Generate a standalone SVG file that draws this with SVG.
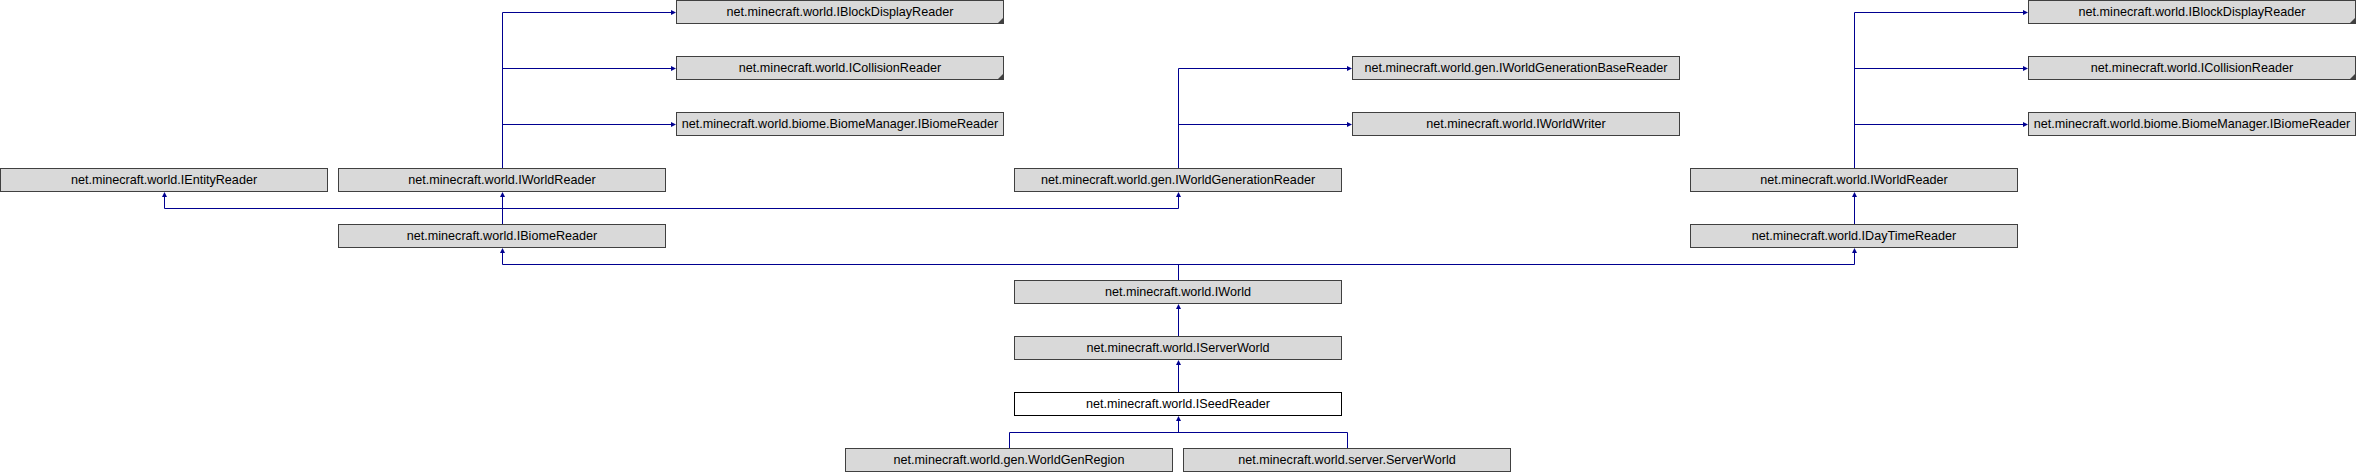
<svg xmlns="http://www.w3.org/2000/svg" width="2356" height="472" viewBox="0 0 2356 472">
<style>
.b{fill:#d9d9d9;stroke:#404040;stroke-width:1}
.w{fill:#ffffff;stroke:#000000;stroke-width:1}
.t{font-family:"Liberation Sans",Arial,sans-serif;font-size:12.6px;fill:#000000;text-anchor:middle}
.c{fill:#404040}
.e{fill:none;stroke:#000090;stroke-width:1}
.a{fill:none;stroke:#000090;stroke-width:1;marker-end:url(#arr)}
</style>
<defs>
<marker id="arr" markerUnits="userSpaceOnUse" viewBox="0 0 5 5" refX="0" refY="2.5" markerWidth="5" markerHeight="5" orient="auto">
<path d="M0,0 L5,2.5 L0,5 Z" fill="#000090"/>
</marker>
</defs>
<g id="connectors">
<path class="e" d="M502.5,168 V12.5"/>
<path class="a" d="M502.5,12.5 H671"/>
<path class="a" d="M502.5,68.5 H671"/>
<path class="a" d="M502.5,124.5 H671"/>
<path class="e" d="M1178.5,168 V68.5"/>
<path class="a" d="M1178.5,68.5 H1347"/>
<path class="a" d="M1178.5,124.5 H1347"/>
<path class="e" d="M1854.5,168 V12.5"/>
<path class="a" d="M1854.5,12.5 H2023"/>
<path class="a" d="M1854.5,68.5 H2023"/>
<path class="a" d="M1854.5,124.5 H2023"/>
<path class="a" d="M502.5,224 V197"/>
<path class="e" d="M164.5,208.5 H1178.5"/>
<path class="a" d="M164.5,208.5 V197"/>
<path class="a" d="M1178.5,208.5 V197"/>
<path class="a" d="M1854.5,224 V197"/>
<path class="e" d="M1178.5,280 V264.5"/>
<path class="e" d="M502.5,264.5 H1854.5"/>
<path class="a" d="M502.5,264.5 V253"/>
<path class="a" d="M1854.5,264.5 V253"/>
<path class="a" d="M1178.5,336 V309"/>
<path class="a" d="M1178.5,392 V365"/>
<path class="e" d="M1009.5,448 V432.5 H1347.5 V448"/>
<path class="a" d="M1178.5,432.5 V421"/>
</g>
<g id="n_IBlockDisplayReader_1">
<rect class="b" x="676.5" y="0.5" width="327" height="23"/>
<polygon class="c" points="997.5,23.5 1003.5,17.5 1003.5,23.5"/>
<text class="t" x="840" y="16">net.minecraft.world.IBlockDisplayReader</text>
</g>
<g id="n_ICollisionReader_1">
<rect class="b" x="676.5" y="56.5" width="327" height="23"/>
<polygon class="c" points="997.5,79.5 1003.5,73.5 1003.5,79.5"/>
<text class="t" x="840" y="72">net.minecraft.world.ICollisionReader</text>
</g>
<g id="n_BiomeManager_IBiomeReader_1">
<rect class="b" x="676.5" y="112.5" width="327" height="23"/>
<text class="t" x="840" y="128">net.minecraft.world.biome.BiomeManager.IBiomeReader</text>
</g>
<g id="n_IWorldGenerationBaseReader">
<rect class="b" x="1352.5" y="56.5" width="327" height="23"/>
<text class="t" x="1516" y="72">net.minecraft.world.gen.IWorldGenerationBaseReader</text>
</g>
<g id="n_IWorldWriter">
<rect class="b" x="1352.5" y="112.5" width="327" height="23"/>
<text class="t" x="1516" y="128">net.minecraft.world.IWorldWriter</text>
</g>
<g id="n_IBlockDisplayReader_2">
<rect class="b" x="2028.5" y="0.5" width="327" height="23"/>
<polygon class="c" points="2349.5,23.5 2355.5,17.5 2355.5,23.5"/>
<text class="t" x="2192" y="16">net.minecraft.world.IBlockDisplayReader</text>
</g>
<g id="n_ICollisionReader_2">
<rect class="b" x="2028.5" y="56.5" width="327" height="23"/>
<polygon class="c" points="2349.5,79.5 2355.5,73.5 2355.5,79.5"/>
<text class="t" x="2192" y="72">net.minecraft.world.ICollisionReader</text>
</g>
<g id="n_BiomeManager_IBiomeReader_2">
<rect class="b" x="2028.5" y="112.5" width="327" height="23"/>
<text class="t" x="2192" y="128">net.minecraft.world.biome.BiomeManager.IBiomeReader</text>
</g>
<g id="n_IEntityReader">
<rect class="b" x="0.5" y="168.5" width="327" height="23"/>
<text class="t" x="164" y="184">net.minecraft.world.IEntityReader</text>
</g>
<g id="n_IWorldReader_1">
<rect class="b" x="338.5" y="168.5" width="327" height="23"/>
<text class="t" x="502" y="184">net.minecraft.world.IWorldReader</text>
</g>
<g id="n_IWorldGenerationReader">
<rect class="b" x="1014.5" y="168.5" width="327" height="23"/>
<text class="t" x="1178" y="184">net.minecraft.world.gen.IWorldGenerationReader</text>
</g>
<g id="n_IWorldReader_2">
<rect class="b" x="1690.5" y="168.5" width="327" height="23"/>
<text class="t" x="1854" y="184">net.minecraft.world.IWorldReader</text>
</g>
<g id="n_IBiomeReader">
<rect class="b" x="338.5" y="224.5" width="327" height="23"/>
<text class="t" x="502" y="240">net.minecraft.world.IBiomeReader</text>
</g>
<g id="n_IDayTimeReader">
<rect class="b" x="1690.5" y="224.5" width="327" height="23"/>
<text class="t" x="1854" y="240">net.minecraft.world.IDayTimeReader</text>
</g>
<g id="n_IWorld">
<rect class="b" x="1014.5" y="280.5" width="327" height="23"/>
<text class="t" x="1178" y="296">net.minecraft.world.IWorld</text>
</g>
<g id="n_IServerWorld">
<rect class="b" x="1014.5" y="336.5" width="327" height="23"/>
<text class="t" x="1178" y="352">net.minecraft.world.IServerWorld</text>
</g>
<g id="n_ISeedReader">
<rect class="w" x="1014.5" y="392.5" width="327" height="23"/>
<text class="t" x="1178" y="408">net.minecraft.world.ISeedReader</text>
</g>
<g id="n_WorldGenRegion">
<rect class="b" x="845.5" y="448.5" width="327" height="23"/>
<text class="t" x="1009" y="464">net.minecraft.world.gen.WorldGenRegion</text>
</g>
<g id="n_ServerWorld">
<rect class="b" x="1183.5" y="448.5" width="327" height="23"/>
<text class="t" x="1347" y="464">net.minecraft.world.server.ServerWorld</text>
</g>
</svg>
